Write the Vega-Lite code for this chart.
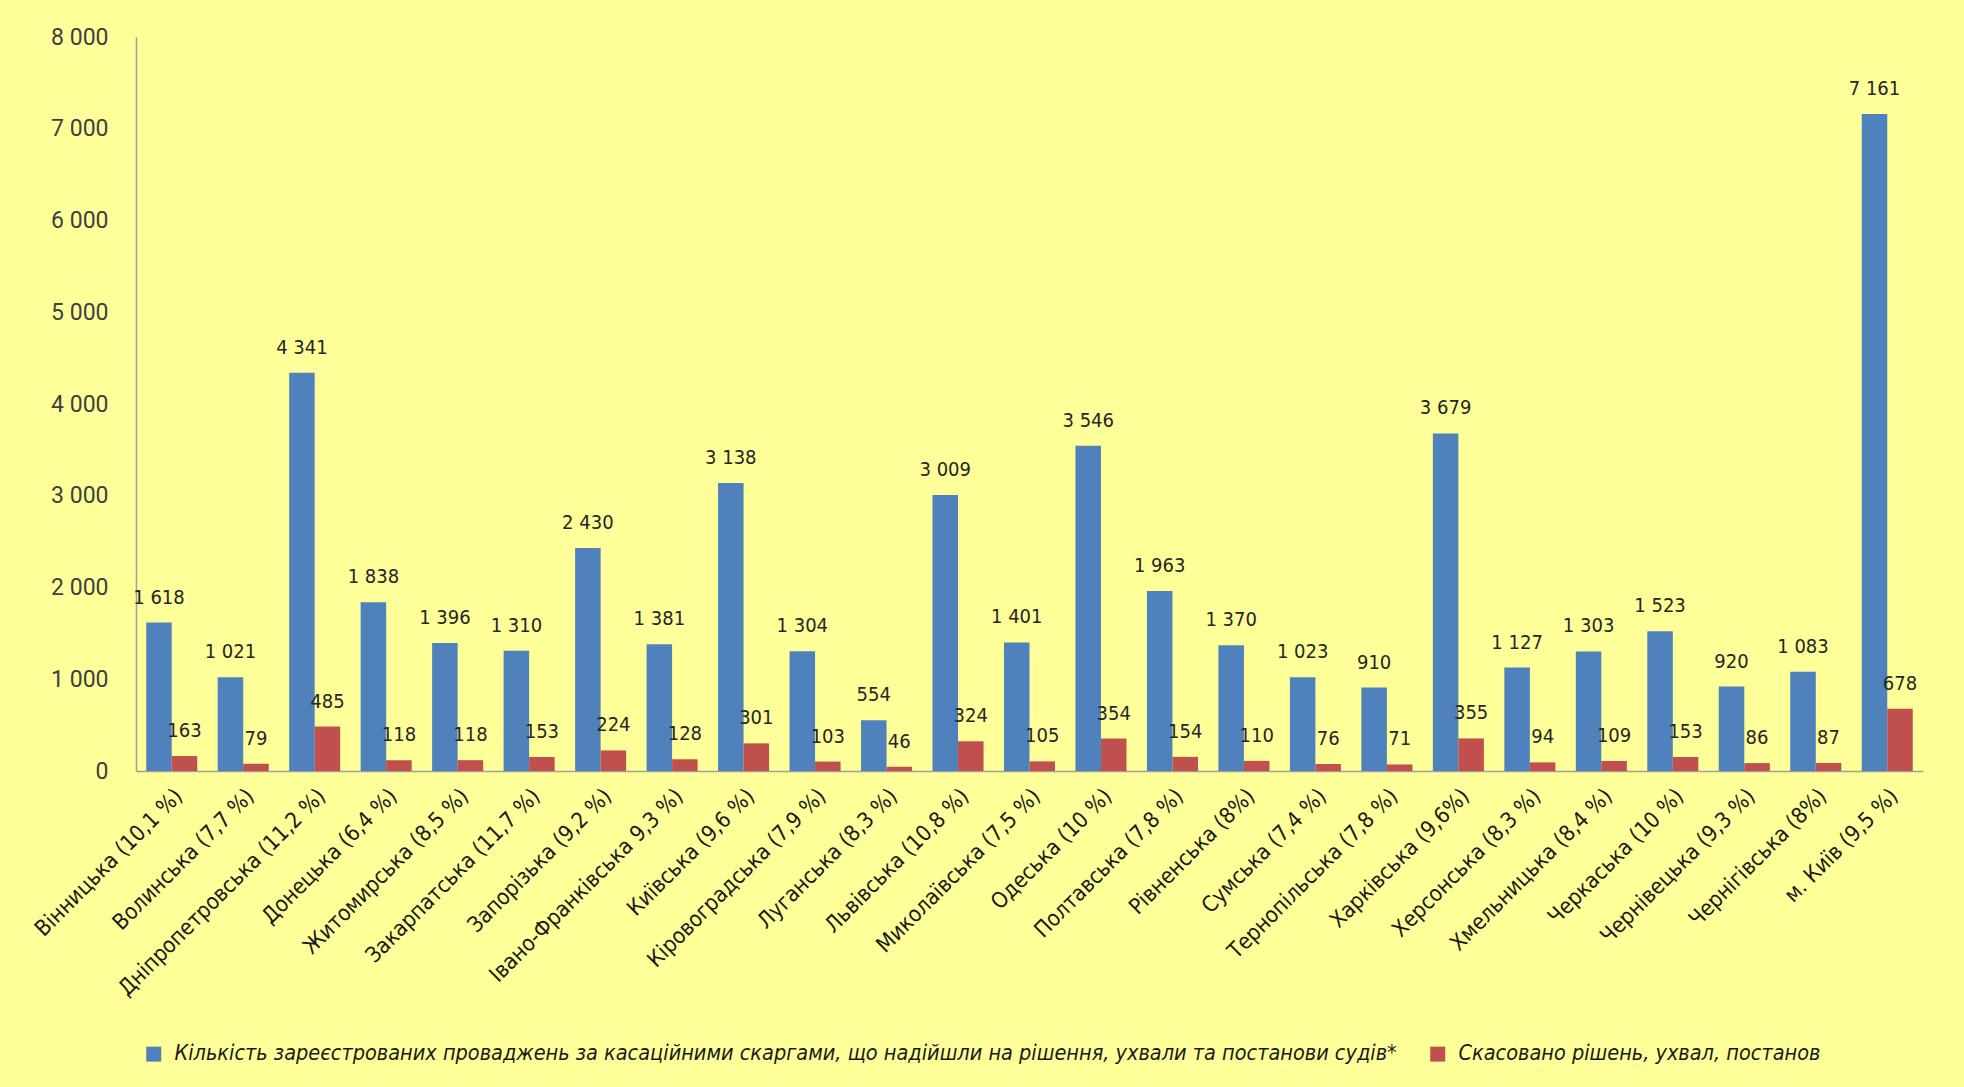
{
  "$schema": "https://vega.github.io/schema/vega-lite/v6.json",
  "autosize": {"type": "none"},
  "width": 1787,
  "height": 734,
  "padding": {"left": 136, "top": 37, "right": 41, "bottom": 316},
  "background": "#FFFF99",
  "config": {
    "view": {"stroke": null},
    "locale": {"number": {"decimal": ",", "thousands": " ", "grouping": [3], "currency": ["", ""]}},
    "font": "'DejaVu Sans Condensed', Roboto"
  },
  "data": {
    "values": [
      {"region": "Вінницька (10,1 %)", "series": "Кількість зареєстрованих проваджень за касаційними скаргами, що надійшли на рішення, ухвали та постанови судів*", "value": 1618},
      {"region": "Вінницька (10,1 %)", "series": "Скасовано  рішень, ухвал, постанов", "value": 163},
      {"region": "Волинська (7,7 %)", "series": "Кількість зареєстрованих проваджень за касаційними скаргами, що надійшли на рішення, ухвали та постанови судів*", "value": 1021},
      {"region": "Волинська (7,7 %)", "series": "Скасовано  рішень, ухвал, постанов", "value": 79},
      {"region": "Дніпропетровська (11,2 %)", "series": "Кількість зареєстрованих проваджень за касаційними скаргами, що надійшли на рішення, ухвали та постанови судів*", "value": 4341},
      {"region": "Дніпропетровська (11,2 %)", "series": "Скасовано  рішень, ухвал, постанов", "value": 485},
      {"region": "Донецька (6,4 %)", "series": "Кількість зареєстрованих проваджень за касаційними скаргами, що надійшли на рішення, ухвали та постанови судів*", "value": 1838},
      {"region": "Донецька (6,4 %)", "series": "Скасовано  рішень, ухвал, постанов", "value": 118},
      {"region": "Житомирська (8,5 %)", "series": "Кількість зареєстрованих проваджень за касаційними скаргами, що надійшли на рішення, ухвали та постанови судів*", "value": 1396},
      {"region": "Житомирська (8,5 %)", "series": "Скасовано  рішень, ухвал, постанов", "value": 118},
      {"region": "Закарпатська (11,7 %)", "series": "Кількість зареєстрованих проваджень за касаційними скаргами, що надійшли на рішення, ухвали та постанови судів*", "value": 1310},
      {"region": "Закарпатська (11,7 %)", "series": "Скасовано  рішень, ухвал, постанов", "value": 153},
      {"region": "Запорізька (9,2 %)", "series": "Кількість зареєстрованих проваджень за касаційними скаргами, що надійшли на рішення, ухвали та постанови судів*", "value": 2430},
      {"region": "Запорізька (9,2 %)", "series": "Скасовано  рішень, ухвал, постанов", "value": 224},
      {"region": "Івано-Франківська 9,3 %)", "series": "Кількість зареєстрованих проваджень за касаційними скаргами, що надійшли на рішення, ухвали та постанови судів*", "value": 1381},
      {"region": "Івано-Франківська 9,3 %)", "series": "Скасовано  рішень, ухвал, постанов", "value": 128},
      {"region": "Київська (9,6 %)", "series": "Кількість зареєстрованих проваджень за касаційними скаргами, що надійшли на рішення, ухвали та постанови судів*", "value": 3138},
      {"region": "Київська (9,6 %)", "series": "Скасовано  рішень, ухвал, постанов", "value": 301},
      {"region": "Кіровоградська (7,9 %)", "series": "Кількість зареєстрованих проваджень за касаційними скаргами, що надійшли на рішення, ухвали та постанови судів*", "value": 1304},
      {"region": "Кіровоградська (7,9 %)", "series": "Скасовано  рішень, ухвал, постанов", "value": 103},
      {"region": "Луганська (8,3 %)", "series": "Кількість зареєстрованих проваджень за касаційними скаргами, що надійшли на рішення, ухвали та постанови судів*", "value": 554},
      {"region": "Луганська (8,3 %)", "series": "Скасовано  рішень, ухвал, постанов", "value": 46},
      {"region": "Львівська (10,8 %)", "series": "Кількість зареєстрованих проваджень за касаційними скаргами, що надійшли на рішення, ухвали та постанови судів*", "value": 3009},
      {"region": "Львівська (10,8 %)", "series": "Скасовано  рішень, ухвал, постанов", "value": 324},
      {"region": "Миколаївська (7,5 %)", "series": "Кількість зареєстрованих проваджень за касаційними скаргами, що надійшли на рішення, ухвали та постанови судів*", "value": 1401},
      {"region": "Миколаївська (7,5 %)", "series": "Скасовано  рішень, ухвал, постанов", "value": 105},
      {"region": "Одеська (10 %)", "series": "Кількість зареєстрованих проваджень за касаційними скаргами, що надійшли на рішення, ухвали та постанови судів*", "value": 3546},
      {"region": "Одеська (10 %)", "series": "Скасовано  рішень, ухвал, постанов", "value": 354},
      {"region": "Полтавська (7,8 %)", "series": "Кількість зареєстрованих проваджень за касаційними скаргами, що надійшли на рішення, ухвали та постанови судів*", "value": 1963},
      {"region": "Полтавська (7,8 %)", "series": "Скасовано  рішень, ухвал, постанов", "value": 154},
      {"region": "Рівненська (8%)", "series": "Кількість зареєстрованих проваджень за касаційними скаргами, що надійшли на рішення, ухвали та постанови судів*", "value": 1370},
      {"region": "Рівненська (8%)", "series": "Скасовано  рішень, ухвал, постанов", "value": 110},
      {"region": "Сумська (7,4 %)", "series": "Кількість зареєстрованих проваджень за касаційними скаргами, що надійшли на рішення, ухвали та постанови судів*", "value": 1023},
      {"region": "Сумська (7,4 %)", "series": "Скасовано  рішень, ухвал, постанов", "value": 76},
      {"region": "Тернопільська (7,8 %)", "series": "Кількість зареєстрованих проваджень за касаційними скаргами, що надійшли на рішення, ухвали та постанови судів*", "value": 910},
      {"region": "Тернопільська (7,8 %)", "series": "Скасовано  рішень, ухвал, постанов", "value": 71},
      {"region": "Харківська (9,6%)", "series": "Кількість зареєстрованих проваджень за касаційними скаргами, що надійшли на рішення, ухвали та постанови судів*", "value": 3679},
      {"region": "Харківська (9,6%)", "series": "Скасовано  рішень, ухвал, постанов", "value": 355},
      {"region": "Херсонська (8,3 %)", "series": "Кількість зареєстрованих проваджень за касаційними скаргами, що надійшли на рішення, ухвали та постанови судів*", "value": 1127},
      {"region": "Херсонська (8,3 %)", "series": "Скасовано  рішень, ухвал, постанов", "value": 94},
      {"region": "Хмельницька (8,4 %)", "series": "Кількість зареєстрованих проваджень за касаційними скаргами, що надійшли на рішення, ухвали та постанови судів*", "value": 1303},
      {"region": "Хмельницька (8,4 %)", "series": "Скасовано  рішень, ухвал, постанов", "value": 109},
      {"region": "Черкаська (10 %)", "series": "Кількість зареєстрованих проваджень за касаційними скаргами, що надійшли на рішення, ухвали та постанови судів*", "value": 1523},
      {"region": "Черкаська (10 %)", "series": "Скасовано  рішень, ухвал, постанов", "value": 153},
      {"region": "Чернівецька (9,3 %)", "series": "Кількість зареєстрованих проваджень за касаційними скаргами, що надійшли на рішення, ухвали та постанови судів*", "value": 920},
      {"region": "Чернівецька (9,3 %)", "series": "Скасовано  рішень, ухвал, постанов", "value": 86},
      {"region": "Чернігівська (8%)", "series": "Кількість зареєстрованих проваджень за касаційними скаргами, що надійшли на рішення, ухвали та постанови судів*", "value": 1083},
      {"region": "Чернігівська (8%)", "series": "Скасовано  рішень, ухвал, постанов", "value": 87},
      {"region": "м. Київ (9,5 %)", "series": "Кількість зареєстрованих проваджень за касаційними скаргами, що надійшли на рішення, ухвали та постанови судів*", "value": 7161},
      {"region": "м. Київ (9,5 %)", "series": "Скасовано  рішень, ухвал, постанов", "value": 678}
    ]
  },
  "encoding": {
    "x": {
      "field": "region", "type": "nominal", "sort": null,
      "scale": {"paddingInner": 0.286, "paddingOuter": 0.143},
      "axis": {
        "title": null, "labelAngle": -45, "labelFontSize": 22, "labelColor": "#1a1a1a",
        "labelFont": "'DejaVu Sans Condensed', Roboto", "labelPadding": 14, "labelLimit": 400,
        "ticks": false, "domainColor": "#A0A0A0", "domainWidth": 1.5
      }
    },
    "xOffset": {"field": "series", "type": "nominal", "sort": null},
    "y": {
      "field": "value", "type": "quantitative",
      "scale": {"domain": [0, 8000], "nice": false},
      "axis": {
        "title": null, "values": [0, 1000, 2000, 3000, 4000, 5000, 6000, 7000, 8000],
        "format": ",d", "grid": false, "ticks": false, "labelPadding": 28,
        "labelFontSize": 23, "labelColor": "#404040", "labelFont": "Roboto",
        "domainColor": "#A0A0A0", "domainWidth": 1.5
      }
    }
  },
  "layer": [
    {
      "mark": {"type": "bar", "strokeWidth": 0},
      "encoding": {
        "color": {
          "field": "series", "type": "nominal", "sort": null,
          "scale": {"range": ["#4F81BD", "#C0504D"]},
          "legend": {
            "title": null, "orient": "none", "direction": "horizontal",
            "legendX": 7, "legendY": 1006, "padding": 0,
            "symbolType": "square", "symbolSize": 225, "symbolStrokeWidth": 0,
            "labelFont": "'DejaVu Sans Condensed', Roboto", "labelFontStyle": "italic",
            "labelFontSize": 21.5, "labelColor": "#1a1a1a", "labelLimit": 2000,
            "columnPadding": 30, "labelOffset": 10
          }
        }
      }
    },
    {
      "mark": {"type": "text", "baseline": "alphabetic", "dy": -19, "fontSize": 20, "color": "#262626", "font": "'DejaVu Sans Condensed', Roboto"},
      "encoding": {
        "text": {"field": "value", "type": "quantitative", "format": ",d"}
      }
    }
  ]
}
